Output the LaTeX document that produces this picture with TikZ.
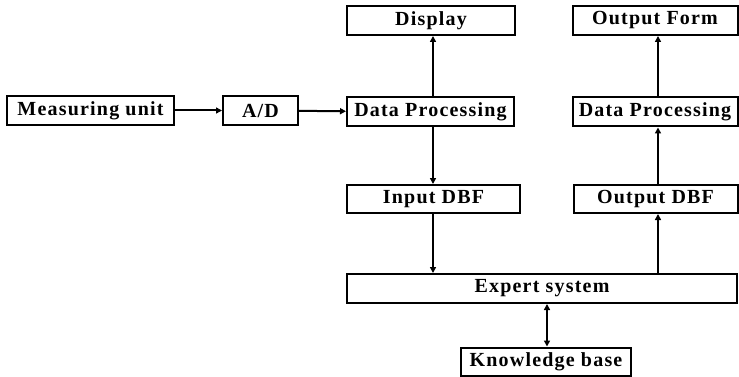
\documentclass[tikz,border=0pt]{standalone}
\usepackage{fontspec}
\setmainfont{Liberation Serif}[LetterSpace=6]
\usetikzlibrary{arrows.meta}
\begin{document}
\begin{tikzpicture}[x=1pt,y=-1pt,
  box/.style={draw,line width=2pt,minimum height=29pt,inner sep=0pt,
    font=\fontsize{20}{22}\selectfont\bfseries},
  arr/.style={line width=2pt,-{Triangle[length=6pt,width=6pt]}},
  darr/.style={line width=2pt,{Triangle[length=6pt,width=6pt]}-{Triangle[length=6pt,width=6pt]}}]
\useasboundingbox (0,0) rectangle (739,377);
\node[box,minimum width=167pt] (meas) at (90.5,110.5) {Measuring unit};
\node[box,minimum width=75pt] (ad) at (260.5,110.5) {A/D};
\node[box,minimum width=167pt] (dp1) at (430.5,112) {Data Processing};
\node[box,minimum width=168pt] (disp) at (431,20.5) {Display};
\node[box,minimum width=165pt] (of) at (655,20.5) {Output Form};
\node[box,minimum width=165pt] (dp2) at (655,112) {Data Processing};
\node[box,minimum width=173pt,minimum height=28pt] (in) at (433.5,199) {Input DBF};
\node[box,minimum width=164pt,minimum height=28pt] (out) at (655.5,199) {Output DBF};
\node[box,minimum width=390pt] (exp) at (542,288.5) {Expert system};
\node[box,minimum width=170pt,minimum height=28pt] (kb) at (546,361.5) {Knowledge base};
\coordinate (cl) at (433,0);
\coordinate (cr) at (658,0);
\coordinate (ck) at (547,0);
\draw[arr] (meas) -- (ad);
\draw[arr] (ad) -- (dp1);
\draw[arr] (dp1.north -| cl) -- (disp.south -| cl);
\draw[arr] (dp1.south -| cl) -- (in.north -| cl);
\draw[arr] (in.south -| cl) -- (exp.north -| cl);
\draw[arr] (exp.north -| cr) -- (out.south -| cr);
\draw[arr] (out.north -| cr) -- (dp2.south -| cr);
\draw[arr] (dp2.north -| cr) -- (of.south -| cr);
\draw[darr] (exp.south -| ck) -- (kb.north -| ck);
\end{tikzpicture}
\end{document}
